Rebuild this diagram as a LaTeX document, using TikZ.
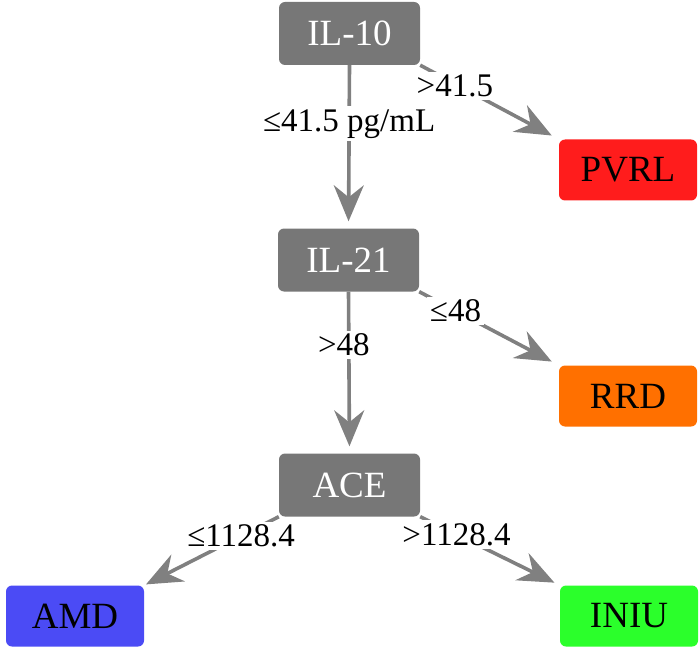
\documentclass[tikz,border=0pt]{standalone}
\usepackage{fontspec}
\setmainfont{Liberation Serif}
\usetikzlibrary{arrows.meta}
\definecolor{boxgray}{HTML}{777777}
\definecolor{arrgray}{HTML}{808080}
\definecolor{cred}{HTML}{FF1C1C}
\definecolor{corange}{HTML}{FF7000}
\definecolor{cblue}{HTML}{4B4BF5}
\definecolor{cgreen}{HTML}{2BFF2B}
\begin{document}
\begin{tikzpicture}[x=1pt,y=-1pt,
  box/.style={rounded corners=6pt, inner sep=0pt, font=\fontsize{37}{40}\selectfont},
  split/.style={box, fill=boxgray, text=white, minimum width=141pt, minimum height=63pt},
  leaf/.style={box, text=black, minimum width=138pt, minimum height=61pt},
  conn/.style={draw=arrgray, line width=3.6pt, -{Stealth[length=36pt,width=30pt,inset=12pt]}},
  lbl/.style={fill=white, inner sep=3pt, text=black, font=\fontsize{33}{36}\selectfont}]
\useasboundingbox (0,0) rectangle (700,652);
\node[split] (il10) at (349.5,33.5) {IL-10};
\node[split] (il21) at (348.5,260) {IL-21};
\node[split] (ace) at (349.5,485) {ACE};
\node[leaf, fill=cred] (pvrl) at (628,170) {PVRL};
\node[leaf, fill=corange] (rrd) at (628,396) {RRD};
\node[leaf, fill=cblue] (amd) at (75,616) {AMD};
\node[leaf, fill=cgreen] (iniu) at (629,616) {INIU};
\draw[conn, shorten >=7pt] (il10.south) -- node[lbl, pos=0.36] {≤41.5 pg/mL} (il21.north);
\draw[conn, shorten >=8pt] (il10.south east) -- node[lbl, pos=0.25, yshift=-2pt] {>41.5} (pvrl.north west);
\draw[conn, shorten >=7pt] (il21.south) -- node[lbl, pos=0.33, xshift=-5pt] {>48} (ace.north);
\draw[conn, shorten >=8pt] (il21.south east) -- node[lbl, pos=0.26] {≤48} (rrd.north west);
\draw[conn, shorten >=2pt] (ace.south west) -- node[lbl, pos=0.28] {≤1128.4} (amd.north east);
\draw[conn, shorten >=6pt] (ace.south east) -- node[lbl, pos=0.26] {>1128.4} (iniu.north west);
\end{tikzpicture}
\end{document}
